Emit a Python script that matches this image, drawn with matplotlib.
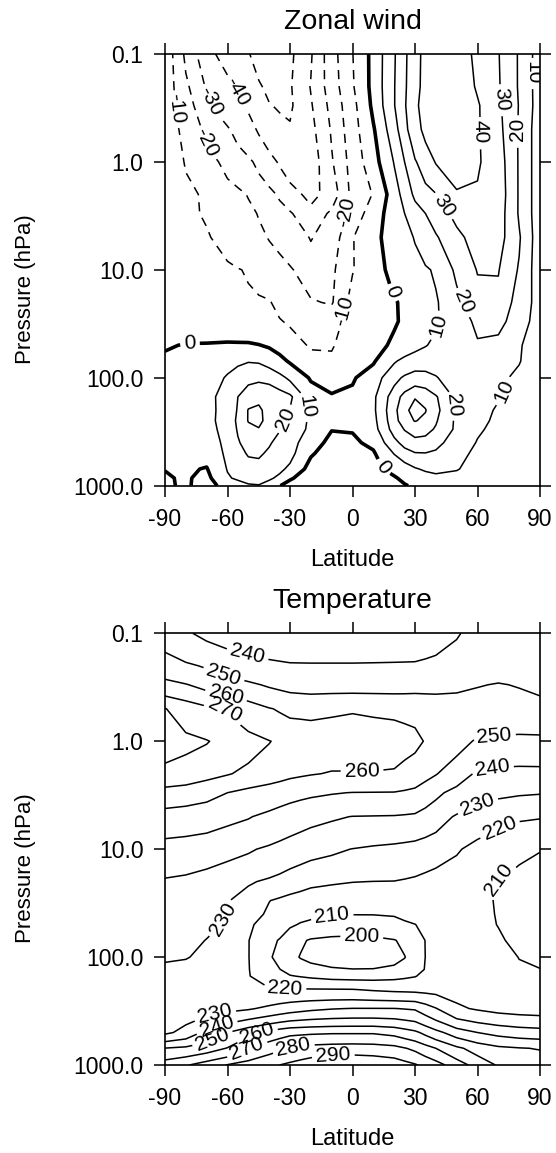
import matplotlib
matplotlib.use("Agg")
import matplotlib.pyplot as plt
import numpy as np
from matplotlib.ticker import NullLocator

plt.rcParams["font.family"] = ["Liberation Sans", "DejaVu Sans"]
plt.rcParams["axes.unicode_minus"] = False

lat_ticks = [-90, -60, -30, 0, 30, 60, 90]
p_ticks = [1000, 100, 10, 1, 0.1]
p_tick_labels = ["1000.0", "100.0", "10.0", "1.0", "0.1"]

# zonal wind grid (finer around the jets)
wind_lat = [-90, -80, -70, -60, -55, -50, -45, -40, -35, -30, -20, -10, 0,
            10, 20, 25, 30, 35, 40, 50, 60, 70, 80, 90]
wind_p = [1000, 850, 700, 500, 400, 300, 250, 200, 150, 100, 70, 50, 30, 20,
          10, 5, 3, 2, 1, 0.5, 0.3, 0.2, 0.1]

# zonal wind (m/s), one row per level of wind_p
zonal_wind = [
    [-1, 1, -3, 3, 6, 9, 9.5, 6, 0.3, -3, -6, -6, -5, -4, -2, -0.5, 1, 2, 3, 5, 4, 2, 1, 0.5],
    [-0.8, 1, -2.5, 9, 11.5, 13, 13.5, 11.5, 8, 1, -4.5, -6, -4.5, -3, -0.7, 1.5, 3.5, 5.5, 7, 7.5, 5.5, 3, 1.5, 1],
    [0.2, 1, -0.5, 10.5, 14, 16, 16.5, 15, 12, 8, -3.5, -5, -4, -2, 2, 5, 9, 11.5, 13, 10.5, 7, 4, 2, 1],
    [2, 3, 3, 12, 17, 21, 21.5, 18.5, 15, 13, 1, -4, -3, -1, 10.5, 16, 19.5, 19.8, 18.5, 13, 8, 5, 3, 2],
    [2.5, 4, 5, 12.5, 19, 24, 25, 21, 17, 14, 4, -2.5, -1.5, 2, 17, 23.5, 27, 26.5, 23, 15, 9.5, 6.5, 4, 2.5],
    [3, 5, 7, 13, 21, 27.5, 29.5, 25, 20.5, 16, 8, 0.3, 0.5, 6, 24, 30.5, 34, 33, 29, 18, 11, 8, 5, 3],
    [3.5, 5.5, 7.5, 13.5, 22, 30.5, 32, 27, 22, 18.5, 8, 1.5, 2, 7, 26, 36, 40.5, 38, 31, 18, 12, 8.5, 5.5, 3.5],
    [4, 6, 8, 12.5, 21, 30.5, 31.5, 27, 23, 19.5, 8, 3, 4, 8, 27, 38, 43, 40.5, 33, 18, 13, 9, 6, 4],
    [3, 5, 7, 14, 20, 26, 28, 27, 25, 22, 5, 1, 2, 8, 25, 33.5, 39.5, 37, 31, 18, 14, 10.5, 7, 4],
    [2, 3, 5, 11, 14, 17, 18, 17, 13, 8, -1, -4, -1, 5, 17, 21.5, 24, 23, 20.5, 16, 13, 12, 8, 3],
    [1, 2, 4, 7, 8.5, 9.5, 9, 6, 2.5, -1, -7, -9, -6, -1, 9, 12.5, 15, 16, 17, 16, 15, 13, 10.5, 4],
    [-0.5, 0.3, 0.5, 1, 1, 1, 0.3, -1, -3, -6, -11, -10.5, -7, -4, 2, 4.5, 7, 9.5, 12, 16, 19, 17, 11, 4],
    [-2, -3, -4, -5, -5.5, -6, -7, -8, -9.5, -11, -17, -12.5, -7, -5, -1, 1.5, 4, 6.5, 9, 15, 22, 23, 15, 5],
    [-4, -6, -7, -8, -8.5, -9, -9.2, -9.5, -12, -15, -19, -21, -6, -4, -1, 2, 5, 7, 9, 17, 26, 27, 16, 6],
    [-6, -7, -8, -9, -9.7, -10.5, -12, -14, -16.5, -19, -25, -22, -10.5, -4, 3, 5, 7, 9, 11, 22, 30.5, 30.5, 19, 4],
    [-7, -9, -9.5, -12, -14, -16, -18, -20.5, -22.5, -25, -30.5, -26, -10.5, -3, 5, 7.5, 10.5, 14.5, 19, 27, 35, 34, 21, 4],
    [-7, -9, -10.5, -14, -16, -18, -20.5, -23, -26, -29, -37, -28, -16, -5, 5, 10, 15.5, 20, 24, 33, 38, 35, 19, 4],
    [-6, -8.5, -11, -16, -18, -20.5, -23.5, -27, -31.5, -36, -43, -36, -17, -9.5, 5, 14, 22, 26, 29.5, 39, 39, 36, 19, 4],
    [-5, -10.5, -16, -23, -25.5, -28, -32.5, -37, -41, -45, -46, -31, -16, -4, 10.5, 20, 29, 35.5, 40.5, 44, 41, 35, 19, 4],
    [-4, -13, -22, -29, -33, -37, -41, -44.5, -47, -49, -43, -29, -14, -1, 16, 27, 37, 42, 45, 46, 41, 33, 19, 4],
    [-5, -15, -28, -35, -38, -41, -45.5, -49.5, -51, -51.5, -41, -27, -13, 2, 19.5, 29, 38, 44, 48, 47, 41, 32, 19.5, 5],
    [-4, -18, -31, -37, -41, -45, -49, -52, -52, -51, -39.5, -25, -11, 3, 19.5, 28.5, 37, 43, 47, 46, 39, 31, 19, 5],
    [-3, -22, -37, -44, -47, -49.5, -53, -55, -54, -52, -41, -24, -10.3, 3, 19, 28, 37, 42.5, 46, 46, 37.5, 30.5, 19, 5],
]

# temperature grid
temp_lat = [-90, -80, -70, -60, -50, -40, -35, -30, -25, -20, -10, 0, 10, 20,
            25, 30, 35, 40, 50, 60, 70, 80, 90]
temp_p = [1000, 700, 500, 300, 200, 150, 130, 100, 70, 50, 40, 30, 20, 10, 5,
          3, 2, 1, 0.5, 0.3, 0.2, 0.1]

# temperature (K), one row per level of temp_p
temperature = [
    [265, 269, 275, 280.5, 284, 288, 290, 292, 294, 296, 298, 299, 298, 296, 293.5, 291, 287.5, 284, 275, 266, 259, 256, 255],
    [250.3, 252, 255, 260.5, 270.3, 276, 278.5, 281, 282.3, 283.5, 284.5, 285, 284.5, 283, 280.5, 278, 274, 270, 262, 256, 252, 250.5, 249.5],
    [228, 233, 243, 250, 257, 263, 265.5, 267.5, 268, 268.5, 269, 269, 269, 267, 264.5, 262, 257.5, 253, 245, 240, 237, 235, 234],
    [225, 225, 226, 227.5, 229, 232, 233.8, 235.5, 236.8, 238, 239.5, 240.3, 240.3, 240.2, 239.6, 239, 234.8, 230.5, 221.5, 219, 217, 216, 215.5],
    [226, 225.5, 224.5, 223, 221.5, 221, 220.9, 220.8, 220.7, 220.6, 220.5, 220.3, 219, 218, 217.8, 217.5, 217.2, 217, 217, 217, 216.5, 216, 215.5],
    [227, 226, 224.5, 222.5, 220.5, 215, 212.5, 210.5, 209.5, 208.5, 207, 206.5, 206.5, 207.5, 208.5, 209.6, 212, 214, 215, 215, 214, 212.5, 211.5],
    [228.5, 227.5, 225.8, 223, 220.4, 213, 210.2, 207, 204.5, 203, 201, 200.2, 200.3, 201.5, 203, 206, 210.5, 213, 215.5, 215, 213.5, 211, 210.2],
    [231, 230.5, 228, 224, 220.3, 211, 207.5, 203, 199.5, 197.5, 195.5, 195, 195.5, 197.5, 199.7, 204, 210.1, 213, 216, 215, 213, 209.8, 208],
    [233.5, 232, 229.8, 225, 220.3, 212, 209.5, 205.5, 201.5, 199, 197.5, 197, 197.5, 199.5, 202, 205.5, 210.2, 212.5, 214, 213, 211, 208, 207],
    [235, 233.5, 231.5, 229, 221.5, 216, 213.5, 211, 209.5, 208.5, 207, 206.5, 207, 208, 209, 209.9, 211.2, 212, 213, 212, 209.8, 206.5, 205],
    [236, 234.8, 232.8, 229.8, 224, 218.5, 215.5, 213.5, 212, 211.5, 210.3, 210.2, 210.2, 210.5, 211.5, 212, 212.5, 212.8, 212.8, 211.8, 209.6, 206.2, 205],
    [237, 236, 234, 230.5, 226, 220.2, 218.5, 217, 216, 215, 214, 213.5, 213.5, 214, 214, 214, 213.8, 213.5, 212.5, 211.5, 209.5, 206, 205],
    [239, 238, 236, 233, 231, 228.5, 227, 225, 223.5, 222, 221, 220.2, 219.9, 219.8, 219.2, 218.5, 217.3, 216, 214, 212, 209.8, 207, 206],
    [246, 245.5, 244.5, 243, 241, 238.5, 237, 235.5, 234.2, 233, 231.5, 229.8, 228.5, 227.5, 226.8, 226, 225, 224, 221, 217, 214, 212, 210.3],
    [256, 255, 254, 252, 250.5, 248, 246.5, 245, 243.7, 242.5, 241, 239.8, 239.6, 239.4, 239, 238.5, 236.3, 234, 229, 225, 222.5, 221, 220.5],
    [266, 265, 263, 260, 257, 255, 254, 253, 252.2, 251.5, 250.5, 249.8, 249.7, 249.6, 248.8, 248, 245, 242, 237, 234, 232, 231, 230.5],
    [278, 276, 273, 270.6, 268, 265, 263.5, 262, 261.2, 260.5, 259.5, 259.5, 259.5, 259, 257, 255, 252.8, 250.5, 245, 238.5, 237, 236.5, 236.5],
    [283, 282, 280.5, 277, 273, 270.3, 268.7, 267, 266, 265, 264, 264, 264, 264, 263, 262, 259.5, 257, 253, 249, 248.5, 248.5, 249],
    [280.3, 276, 272, 269.5, 265, 260.5, 259.2, 258, 258, 258, 259, 259.5, 259, 258.5, 258.2, 258, 257, 256, 255, 255, 255, 254, 253],
    [263, 260.5, 257, 254, 251.5, 249, 248, 247, 246.5, 246, 246, 246, 246, 246, 246.2, 246.5, 246.7, 247, 248, 249.5, 250.5, 249.5, 248],
    [254, 251.5, 249, 246, 244, 242, 241.5, 241, 241, 241, 241, 241, 241, 241, 241, 241, 241.5, 242, 243, 244, 246, 247, 247],
    [246, 241, 238, 236, 235, 234, 233.5, 233, 232.5, 232, 232, 232, 233, 234, 234.5, 235, 236, 237, 239.5, 242, 244, 245, 245],
]

wind_levels = np.arange(-50, 60, 10)
temp_levels = np.arange(200, 300, 10)

# where the contour labels sit (latitude, hPa)
wind_label_spots = [(-84, 0.32), (-69.4, 0.28), (-55, 0.22), (-71, 0.67), (-1.2, 3),
                    (-6, 23.5), (19.4, 16), (-78, 52), (16.4, 644), (40, 32), (70.8, 129),
                    (-18.8, 179), (-33.2, 238), (49.2, 179), (53, 20), (44.4, 2.5),
                    (60, 0.52), (73, 0.26), (80, 0.5), (86.5, 0.15)]
temp_label_spots = [(-50, 0.146), (-61, 0.22), (-60, 0.33), (-60, 0.47), (4.6, 1.77),
                    (68, 0.84), (67, 1.66), (59, 3.5), (70, 6), (69.4, 18.3), (-65, 41),
                    (-9.8, 41), (4.6, 54), (-32.4, 201), (-66, 343), (-65, 455), (-67, 584),
                    (-46, 506), (-50.8, 697), (-28.4, 673), (-9.2, 840)]

W, H = 556, 1153
fig = plt.figure(figsize=(W / 100, H / 100), dpi=100)


def px_box(left, top, right, bottom):
    return [left / W, 1 - bottom / H, (right - left) / W, (bottom - top) / H]


def setup_axes(ax):
    ax.set_yscale("log")
    ax.set_xlim(-90, 90)
    ax.set_ylim(1000, 0.1)
    ax.set_xticks(lat_ticks)
    ax.set_xticklabels([str(v) for v in lat_ticks])
    ax.set_yticks(p_ticks)
    ax.set_yticklabels(p_tick_labels)
    ax.yaxis.set_minor_locator(NullLocator())
    ax.tick_params(direction="out", length=8, width=1.1, top=True, right=True,
                   labelsize=16.5)
    ax.tick_params(axis="y", pad=7.5)
    ax.tick_params(axis="x", pad=8)
    for s in ax.spines.values():
        s.set_linewidth(1.2)


def label_text(v):
    return "%d" % round(v)


# zonal wind panel
ax1 = fig.add_axes(px_box(165, 54, 540, 485.7))
setup_axes(ax1)
lx, py = np.meshgrid(wind_lat, wind_p)
styles = [(0, (6, 4.5)) if lv < 0 else "solid" for lv in wind_levels]
widths = [2.6 if lv == 0 else 1.1 for lv in wind_levels]
cs1 = ax1.contour(lx, py, np.array(zonal_wind), levels=wind_levels, colors="black",
                  linewidths=widths, linestyles=styles)
ax1.clabel(cs1, fmt=label_text, fontsize=15, inline=True, inline_spacing=4,
           manual=wind_label_spots)

# temperature panel
ax2 = fig.add_axes(px_box(165, 633.3, 540, 1065))
setup_axes(ax2)
lx, py = np.meshgrid(temp_lat, temp_p)
cs2 = ax2.contour(lx, py, np.array(temperature), levels=temp_levels, colors="black",
                  linewidths=1.1, linestyles="solid")
ax2.clabel(cs2, fmt=label_text, fontsize=15, inline=True, inline_spacing=4,
           manual=temp_label_spots)

# titles and axis labels
for title, top in (("Zonal wind", 0), ("Temperature", 579.3)):
    fig.text(352.5 / W, 1 - (top + 22) / H, title, fontsize=20.5, ha="center", va="center")
    fig.text(352.5 / W, 1 - (top + 560) / H, "Latitude", fontsize=17, ha="center",
             va="center")
    fig.text(26 / W, 1 - (top + 289) / H, "Pressure (hPa)", fontsize=16, rotation=90,
             ha="center", va="center")

fig.savefig("out.png", dpi=100)
